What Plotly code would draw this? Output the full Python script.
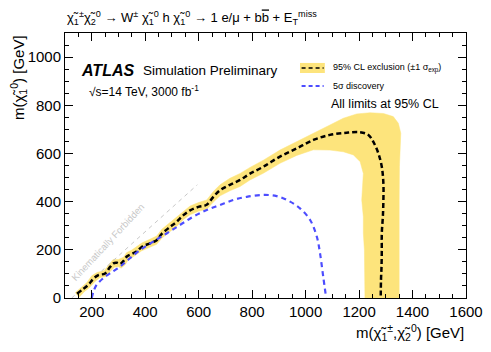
import plotly.graph_objects as go

# expected 95% CL exclusion (dashed black)
exp_x = [145, 165, 187, 206, 225, 250, 268, 281, 295, 306, 320, 331, 350, 370, 387, 418, 443, 462, 493,
         518, 543, 568, 599, 630, 655, 680, 717, 755, 792, 842, 904, 967, 1029, 1091, 1154, 1204, 1235,
         1253, 1272, 1285, 1291, 1291, 1289, 1285, 1285, 1284, 1282, 1281]
exp_y = [18, 35, 54, 80, 95, 102, 128, 144, 146, 141, 155, 172, 183, 195, 212, 227, 240, 266, 295,
         317, 344, 364, 378, 387, 420, 447, 470, 490, 516, 545, 587, 621, 656, 677, 686, 688, 677,
         649, 601, 545, 476, 407, 337, 269, 199, 130, 75, 0]

# +-1 sigma band, outer edge
band_up_x = [138, 160, 182, 200, 220, 247, 265, 280, 300, 320, 330, 350, 387, 418, 443, 462, 493, 518,
             543, 568, 599, 630, 655, 680, 717, 755, 792, 842, 904, 967, 1029, 1091, 1141, 1191, 1241,
             1291, 1328, 1347, 1356, 1353, 1351, 1350, 1350, 1350]
band_up_y = [22, 44, 64, 92, 106, 114, 142, 160, 160, 170, 188, 199, 228, 243, 257, 285, 314, 336,
             362, 382, 396, 407, 442, 470, 497, 517, 542, 572, 614, 648, 684, 718, 746, 764, 769,
             766, 753, 725, 684, 614, 545, 407, 269, 0]
# inner edge
band_dn_x = [152, 172, 192, 212, 230, 255, 272, 285, 300, 310, 325, 335, 350, 387, 418, 443, 462, 493,
             518, 543, 568, 599, 630, 655, 680, 717, 755, 792, 842, 904, 967, 1029, 1091, 1141, 1179,
             1204, 1216, 1214, 1210, 1216, 1216, 1220, 1222, 1222]
band_dn_y = [2, 26, 44, 68, 84, 90, 114, 128, 130, 124, 138, 156, 167, 196, 211, 223, 248, 276,
             298, 326, 346, 360, 368, 398, 424, 445, 463, 490, 518, 559, 592, 615, 614, 607, 594,
             566, 517, 462, 407, 337, 269, 199, 130, 0]

# 5 sigma discovery (dashed blue)
disc_x = [200, 206, 218, 243, 268, 306, 343, 381, 430, 480, 530, 580, 630, 680, 730, 780, 842, 892,
          942, 979, 1017, 1042, 1054, 1066, 1077]
disc_y = [0, 25, 54, 82, 102, 130, 165, 199, 234, 268, 303, 338, 365, 386, 407, 420, 428, 423,
          400, 372, 324, 254, 185, 88, 0]

# kinematic limit m(chi1) = m(chi2) - m(h)
kin_x = [125, 595]
kin_y = [0, 470]

band_x = band_up_x + band_dn_x[::-1]
band_y = band_up_y + band_dn_y[::-1]

YELLOW = '#fde47c'
BLUE = '#4d4dff'
FONT = 'Liberation Sans'

fig = go.Figure()

fig.add_trace(go.Scatter(x=band_x, y=band_y, fill='toself', fillcolor=YELLOW,
                         line=dict(color=YELLOW, width=0.5), mode='lines', hoverinfo='skip'))
fig.add_trace(go.Scatter(x=kin_x, y=kin_y, mode='lines',
                         line=dict(color='#c8c8c8', width=1, dash='4px,4px')))
fig.add_trace(go.Scatter(x=exp_x, y=exp_y, mode='lines', line_shape='spline',
                         line=dict(color='black', width=2.5, dash='5px,3px')))
fig.add_trace(go.Scatter(x=disc_x, y=disc_y, mode='lines', line_shape='spline',
                         line=dict(color=BLUE, width=2.2, dash='5px,4px')))

chi = 'χ̃'
axis_common = dict(showline=True, linecolor='black', linewidth=1, mirror='allticks',
                   ticks='inside', ticklen=8, tickwidth=1, tickcolor='black',
                   showgrid=False, zeroline=False, automargin=False,
                   tickfont=dict(family=FONT, size=15, color='black'),
                   minor=dict(ticks='inside', ticklen=4, dtick=50, tickcolor='black', showgrid=False))

fig.update_xaxes(range=[100, 1600], dtick=200, **axis_common)
fig.update_yaxes(range=[0, 1100], tickvals=[0, 200, 400, 600, 800, 1000], **axis_common)

ann = [
    dict(x=0.0, y=1.0, xref='paper', yref='paper', xanchor='left', yanchor='bottom', yshift=4,
         text=f'{chi}<sub>1</sub><sup>±</sup>{chi}<sub>2</sub><sup>0</sup> → W<sup>±</sup> '
              f'{chi}<sub>1</sub><sup>0</sup> h {chi}<sub>1</sub><sup>0</sup> → 1 e/μ + '
              "b<span style='text-decoration:overline'>b</span> + "
              f'E<sub>T</sub><sup>miss</sup>',
         font=dict(size=13)),
    dict(x=1.0, y=0, xref='paper', yref='paper', xanchor='right', yanchor='top', yshift=-22,
         text=f'm({chi}<sub>1</sub><sup>±</sup>,{chi}<sub>2</sub><sup>0</sup>) [GeV]',
         font=dict(size=15)),
    dict(x=0, y=1.0, xref='paper', yref='paper', xanchor='right', yanchor='top', xshift=-34,
         textangle=-90, text=f'm({chi}<sub>1</sub><sup>0</sup>) [GeV]', font=dict(size=15)),
    dict(x=0.035, y=0.86, xref='paper', yref='paper', xanchor='left', yanchor='middle',
         text='<b><i>ATLAS</i></b>', font=dict(size=16)),
    dict(x=0.19, y=0.86, xref='paper', yref='paper', xanchor='left', yanchor='middle',
         text='Simulation Preliminary', font=dict(size=13.5)),
    dict(x=0.055, y=0.78, xref='paper', yref='paper', xanchor='left', yanchor='middle',
         text='√s=14 TeV, 3000 fb<sup>-1</sup>', font=dict(size=12)),
    dict(x=0.663, y=0.868, xref='paper', yref='paper', xanchor='left', yanchor='middle',
         text='95% CL exclusion (±1 σ<sub>exp</sub>)', font=dict(size=9)),
    dict(x=0.663, y=0.80, xref='paper', yref='paper', xanchor='left', yanchor='middle',
         text='5σ discovery', font=dict(size=9)),
    dict(x=0.658, y=0.732, xref='paper', yref='paper', xanchor='left', yanchor='middle',
         text='All limits at 95% CL', font=dict(size=12.5)),
    dict(x=258, y=232, xref='x', yref='y', xanchor='center', yanchor='middle', textangle=-47,
         text='Kinematically Forbidden', font=dict(size=9.5, color='#c8c8c8')),
]
for a in ann:
    a['showarrow'] = False

shapes = [
    dict(type='rect', xref='paper', yref='paper', x0=0.586, x1=0.648, y0=0.849, y1=0.887,
         fillcolor=YELLOW, line=dict(width=0), layer='below'),
    dict(type='line', xref='paper', yref='paper', x0=0.59, x1=0.645, y0=0.868, y1=0.868,
         line=dict(color='black', width=1.5, dash='4px,3px')),
    dict(type='line', xref='paper', yref='paper', x0=0.59, x1=0.645, y0=0.80, y1=0.80,
         line=dict(color=BLUE, width=2, dash='4px,3px')),
]

# the page body adds an 8px margin on every side, so the canvas is kept
# small enough that the window needs no scrollbars
fig.update_layout(
    width=475, height=336,
    margin=dict(l=57, r=17, t=25, b=46),
    plot_bgcolor='white', paper_bgcolor='white',
    font=dict(family=FONT, color='black'),
    showlegend=False,
    annotations=ann,
    shapes=shapes,
)

fig.write_html("out.html")
